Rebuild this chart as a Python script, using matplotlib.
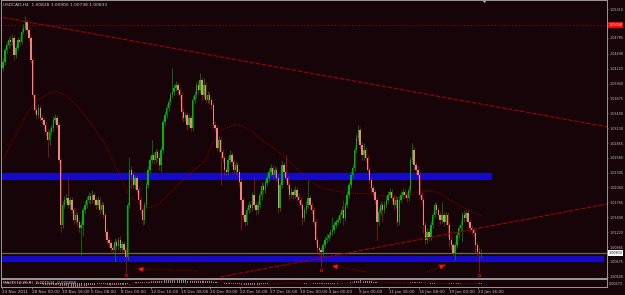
import numpy as np
import pandas as pd
import matplotlib
matplotlib.use("Agg")
import matplotlib.pyplot as plt

bg = "#170408"
frame = "#9a9a9a"

# USDCAD H4, one value per bar
first_open = 1.04232
closes = [
    1.04342, 1.04563, 1.04655, 1.04747, 1.04710, 1.04783, 1.04471, 1.04600, 1.04747, 1.04710,
    1.04893, 1.04967, 1.05077, 1.04930, 1.04783, 1.04379, 1.03736, 1.03461, 1.03369, 1.03498,
    1.03314, 1.03278, 1.03186, 1.03057, 1.02910, 1.03057, 1.03131, 1.03278, 1.03314, 1.03186,
    1.02543, 1.01349, 1.01717, 1.01809, 1.01845, 1.01717, 1.01809, 1.01625, 1.01441, 1.01533,
    1.01404, 1.01294, 1.01349, 1.01625, 1.01717, 1.01809, 1.01882, 1.01809, 1.01900, 1.01809,
    1.01717, 1.01809, 1.01625, 1.01717, 1.01533, 1.01221, 1.01074, 1.01019, 1.00927, 1.00891,
    1.01037, 1.00964, 1.01074, 1.00927, 1.01001, 1.00891, 1.00762, 1.01717, 1.02360, 1.02268,
    1.02084, 1.02213, 1.01992, 1.01809, 1.01625, 1.01441, 1.01717, 1.02084, 1.02360, 1.02543,
    1.02635, 1.02543, 1.02690, 1.02580, 1.02451, 1.02727, 1.03241, 1.03369, 1.03498, 1.03608,
    1.03736, 1.03791, 1.03865, 1.03920, 1.03828, 1.03736, 1.03424, 1.03314, 1.03369, 1.03186,
    1.03314, 1.03131, 1.03645, 1.03736, 1.03920, 1.03828, 1.04012, 1.03736, 1.03920, 1.03645,
    1.03736, 1.03645, 1.03553, 1.03186, 1.03131, 1.02763, 1.02910, 1.02690, 1.02580, 1.02360,
    1.02323, 1.02543, 1.02635, 1.02506, 1.02360, 1.02451, 1.02323, 1.02139, 1.01809, 1.01533,
    1.01404, 1.01625, 1.01717, 1.01662, 1.01900, 1.01717, 1.01625, 1.01717, 1.01900, 1.02066,
    1.01992, 1.02121, 1.02213, 1.02323, 1.02396, 1.02268, 1.02360, 1.02213, 1.01662, 1.02084,
    1.02451, 1.02323, 1.02213, 1.02084, 1.01900, 1.01955, 1.01900, 1.01992, 1.01863, 1.01809,
    1.01717, 1.01478, 1.01625, 1.01717, 1.01845, 1.01717, 1.01625, 1.01404, 1.01074, 1.00927,
    1.00891, 1.00854, 1.00982, 1.01074, 1.01111, 1.01166, 1.01221, 1.01258, 1.01349, 1.01404,
    1.01441, 1.01533, 1.01625, 1.01478, 1.01717, 1.01900, 1.02084, 1.02268, 1.02396, 1.02727,
    1.02947, 1.03094, 1.02818, 1.02635, 1.02727, 1.02580, 1.02360, 1.02176, 1.02029, 1.01955,
    1.01809, 1.01404, 1.01588, 1.01717, 1.01625, 1.01717, 1.01809, 1.01900, 1.01955, 1.01845,
    1.01717, 1.01809, 1.01404, 1.01809, 1.01900, 1.01955, 1.01900, 1.01845, 1.01992, 1.02543,
    1.02727, 1.02451, 1.02360, 1.02268, 1.01900, 1.01809, 1.01349, 1.01074, 1.01221, 1.01129,
    1.01349, 1.01533, 1.01717, 1.01625, 1.01533, 1.01441, 1.01533, 1.01404, 1.01533, 1.01349,
    1.01074, 1.00982, 1.00836, 1.00982, 1.01166, 1.01294, 1.01349, 1.01533, 1.01478, 1.01570,
    1.01404, 1.01294, 1.01258, 1.01203, 1.00982, 1.00854, 1.00828, 1.00833,
]
highs = [
    1.04416, 1.04618, 1.04710, 1.04801, 1.04820, 1.04857, 1.04838, 1.04655, 1.04801, 1.04801,
    1.04949, 1.05041, 1.05187, 1.05132, 1.04985, 1.04838, 1.04416, 1.03773, 1.03535, 1.03572,
    1.03553, 1.03369, 1.03332, 1.03241, 1.03113, 1.03131, 1.03186, 1.03351, 1.03388, 1.03369,
    1.03241, 1.02580, 1.01791, 1.01882, 1.01919, 1.02213, 1.01863, 1.01863, 1.01680, 1.01588,
    1.01588, 1.01460, 1.01423, 1.01680, 1.01791, 1.01882, 1.01955, 1.01937, 1.01992, 1.01955,
    1.01863, 1.01882, 1.01863, 1.01772, 1.01772, 1.01588, 1.01276, 1.01129, 1.01074, 1.00982,
    1.01111, 1.01093, 1.01129, 1.01148, 1.01056, 1.01056, 1.00945, 1.01772, 1.02598, 1.02433,
    1.02323, 1.02268, 1.02268, 1.02047, 1.01863, 1.01680, 1.01772, 1.02139, 1.02433, 1.02617,
    1.02910, 1.02690, 1.02745, 1.02745, 1.02672, 1.02781, 1.03296, 1.03443, 1.03572, 1.03681,
    1.03791, 1.04232, 1.03939, 1.03994, 1.03975, 1.03883, 1.03791, 1.03498, 1.03424, 1.03424,
    1.03369, 1.03369, 1.03718, 1.03810, 1.03975, 1.03994, 1.04141, 1.04067, 1.04049, 1.03975,
    1.03810, 1.03791, 1.03699, 1.03608, 1.03260, 1.03186, 1.02984, 1.02965, 1.02745, 1.02635,
    1.02414, 1.02598, 1.02727, 1.02690, 1.02562, 1.02506, 1.02506, 1.02378, 1.02213, 1.01863,
    1.01588, 1.01680, 1.01791, 1.01772, 1.01955, 1.02213, 1.01772, 1.01791, 1.01974, 1.02139,
    1.02121, 1.02176, 1.02287, 1.02396, 1.02470, 1.02451, 1.02433, 1.02414, 1.02268, 1.02139,
    1.02525, 1.02506, 1.02635, 1.02268, 1.02139, 1.02029, 1.02011, 1.02066, 1.02047, 1.01919,
    1.01863, 1.01772, 1.01680, 1.01791, 1.02176, 1.01900, 1.01772, 1.01680, 1.01460, 1.01129,
    1.00982, 1.00945, 1.01037, 1.01148, 1.01185, 1.01221, 1.01276, 1.01496, 1.01423, 1.01460,
    1.01515, 1.01588, 1.01699, 1.01809, 1.01772, 1.01974, 1.02139, 1.02342, 1.02470, 1.02800,
    1.03021, 1.03186, 1.03149, 1.02873, 1.02855, 1.02781, 1.02635, 1.02414, 1.02231, 1.02084,
    1.02011, 1.01863, 1.01662, 1.01791, 1.01772, 1.01791, 1.01882, 1.01974, 1.02029, 1.02011,
    1.01900, 1.01882, 1.01863, 1.01882, 1.01974, 1.02029, 1.02011, 1.01955, 1.02066, 1.02598,
    1.02855, 1.02781, 1.02506, 1.02433, 1.02323, 1.01955, 1.01863, 1.01404, 1.01294, 1.01276,
    1.01423, 1.01588, 1.01772, 1.01772, 1.01680, 1.01588, 1.01772, 1.01588, 1.01588, 1.01588,
    1.01404, 1.01129, 1.01019, 1.01037, 1.01221, 1.01349, 1.01441, 1.01588, 1.01625, 1.01625,
    1.01625, 1.01460, 1.01349, 1.01294, 1.01258, 1.01037, 1.00945, 1.00900,
]
lows = [
    1.04178, 1.04287, 1.04508, 1.04600, 1.04637, 1.04655, 1.04379, 1.04416, 1.04563, 1.04637,
    1.04674, 1.04857, 1.04930, 1.04875, 1.04729, 1.04324, 1.03681, 1.03406, 1.03296, 1.03314,
    1.03260, 1.03205, 1.03113, 1.02984, 1.02598, 1.02818, 1.03001, 1.03076, 1.03223, 1.03131,
    1.02488, 1.01221, 1.01294, 1.01662, 1.01754, 1.01662, 1.01644, 1.01570, 1.01368, 1.01386,
    1.01331, 1.01221, 1.00799, 1.01148, 1.01570, 1.01662, 1.01754, 1.01736, 1.01754, 1.01736,
    1.01644, 1.01662, 1.01552, 1.01570, 1.01478, 1.01148, 1.01001, 1.00945, 1.00873, 1.00818,
    1.00670, 1.00909, 1.00891, 1.00873, 1.00854, 1.00836, 1.00468, 1.00707, 1.01662, 1.02029,
    1.02029, 1.02011, 1.01919, 1.01736, 1.01552, 1.01349, 1.01368, 1.01662, 1.02029, 1.02305,
    1.02488, 1.02470, 1.02488, 1.02525, 1.02360, 1.02323, 1.02672, 1.03186, 1.03314, 1.03443,
    1.03553, 1.03681, 1.03736, 1.03810, 1.03755, 1.03663, 1.03278, 1.03241, 1.03260, 1.03094,
    1.03131, 1.03076, 1.03076, 1.03590, 1.03681, 1.03755, 1.03773, 1.03645, 1.03681, 1.03590,
    1.03590, 1.03572, 1.03480, 1.03131, 1.03076, 1.02709, 1.02690, 1.02084, 1.02506, 1.02268,
    1.02250, 1.02268, 1.02488, 1.02433, 1.02287, 1.02305, 1.02250, 1.02066, 1.01258, 1.01460,
    1.01331, 1.01349, 1.01570, 1.01588, 1.01607, 1.01662, 1.01533, 1.01552, 1.01662, 1.01809,
    1.01919, 1.01937, 1.02066, 1.02158, 1.02268, 1.02213, 1.02213, 1.02139, 1.01570, 1.01607,
    1.02029, 1.02250, 1.02139, 1.02011, 1.01809, 1.01845, 1.01827, 1.01845, 1.01791, 1.01736,
    1.01644, 1.01349, 1.01423, 1.01570, 1.01662, 1.01644, 1.01552, 1.01331, 1.01001, 1.00854,
    1.00799, 1.00578, 1.00781, 1.00927, 1.01019, 1.01056, 1.01111, 1.01166, 1.01203, 1.01294,
    1.01349, 1.01386, 1.01478, 1.01349, 1.01423, 1.01662, 1.01845, 1.02029, 1.02213, 1.02342,
    1.02672, 1.02892, 1.02745, 1.02543, 1.02543, 1.02506, 1.02287, 1.02103, 1.01937, 1.01882,
    1.01736, 1.01074, 1.01349, 1.01533, 1.01404, 1.01570, 1.01662, 1.01754, 1.01845, 1.01772,
    1.01644, 1.01662, 1.01331, 1.01349, 1.01754, 1.01845, 1.01845, 1.01772, 1.01791, 1.01937,
    1.02488, 1.02360, 1.02268, 1.02213, 1.01845, 1.01736, 1.01203, 1.01001, 1.01019, 1.01056,
    1.01074, 1.01294, 1.01478, 1.01552, 1.01478, 1.01368, 1.01386, 1.01331, 1.01349, 1.01129,
    1.00945, 1.00909, 1.00781, 1.00707, 1.00927, 1.01111, 1.01240, 1.01037, 1.01404, 1.01423,
    1.01349, 1.01221, 1.01185, 1.01129, 1.00836, 1.00799, 1.00486, 1.00738,
]

# moving average (bar index, price)
ma_bars = [0, 4, 9, 14, 19, 24, 29, 34, 39, 44, 49, 55, 60, 64, 68, 74, 79, 83, 87, 95, 103,
           109, 112, 117, 122, 126, 133, 139, 149, 160, 165, 170, 178, 187, 197, 205, 213,
           219, 224, 230, 235, 240, 248, 257]
ma_prices = [1.02543, 1.02818, 1.03131, 1.03461, 1.03645, 1.03755, 1.03810, 1.03718, 1.03572,
             1.03369, 1.03131, 1.02818, 1.02451, 1.02176, 1.01882, 1.01717, 1.01662, 1.01717,
             1.01845, 1.02121, 1.02360, 1.02543, 1.02818, 1.03094, 1.03149, 1.03205, 1.03094,
             1.02910, 1.02672, 1.02323, 1.02158, 1.02047, 1.01974, 1.01937, 1.01919, 1.01882,
             1.01845, 1.01900, 1.01955, 1.01974, 1.01937, 1.01809, 1.01662, 1.01515]

# drawn objects
down_line_bars = [0, 325]
down_line_prices = [1.05160, 1.03150]
up_line_bars = [117, 325]
up_line_prices = [1.00395, 1.01736]
level_price = 1.05030
bid_price = 1.00833
zone_lo = [1.02176, 1.00670]
zone_hi = [1.02295, 1.00781]
zone_end = [263, 323]
arrow_tail_bars = [104.8, 195.7, 228.0]
arrow_tail_prices = [1.00505, 1.00486, 1.00486]
arrow_tip_bars = [71.0, 176.9, 237.6]
arrow_tip_prices = [1.00542, 1.00597, 1.00615]
mark_bars = [66, 171, 256]
mark_prices = [1.00431, 1.00523, 1.00431]

price_ticks = [1.05310, 1.04785, 1.04490, 1.04220, 1.03940, 1.03675, 1.03400, 1.03130,
               1.02855, 1.02580, 1.02305, 1.02040, 1.01765, 1.01490, 1.01220, 1.00945,
               1.00675, 1.00400]
time_labels = ["23 Nov 2011", "28 Nov 00:00", "30 Nov 16:00", "5 Dec 08:00", "8 Dec 00:00",
               "12 Dec 16:00", "15 Dec 08:00", "20 Dec 00:00", "22 Dec 16:00", "27 Dec 16:00",
               "30 Dec 00:00", "4 Jan 00:00", "9 Jan 00:00", "11 Jan 16:00", "16 Jan 08:00",
               "19 Jan 00:00", "23 Jan 16:00"]

c = np.array(closes)
h = np.array(highs)
l = np.array(lows)
o = np.r_[first_open, c[:-1]]
x = np.arange(len(c))
up = c >= o

fig = plt.figure(figsize=(6.25, 2.95), dpi=100, facecolor=bg)
ax = fig.add_axes([1/625, 17/295, 606/625, 278/295], facecolor=bg)
ax.set_xlim(-1.08, 324.7)
ax.set_ylim(1.00376, 1.05481)

for lo, hi, end in zip(zone_lo, zone_hi, zone_end):
    ax.fill_between([-1.1, end], lo, hi, color="#140ac8", lw=0, zorder=1)
ax.axhline(bid_price, color="#666666", lw=0.9, zorder=1.5)
ax.axhline(level_price, color="#b00000", lw=0.7, ls=(0, (1, 2.5)), zorder=1.5)

ax.plot(ma_bars, ma_prices, color="#900000", lw=0.7, ls=(0, (1, 1.2)), zorder=2)

# candles
ax.vlines(x[up], l[up], h[up], color="#00a000", lw=0.45, zorder=3)
ax.vlines(x[~up], l[~up], h[~up], color="#b02020", lw=0.45, zorder=3)
body = np.maximum(np.abs(c - o), 0.00005)
ax.bar(x[up], body[up], bottom=np.minimum(o, c)[up], width=0.75, color="#00b400", lw=0, zorder=4)
ax.bar(x[~up], body[~up], bottom=np.minimum(o, c)[~up], width=0.75, color="#f08282", lw=0, zorder=4)

ax.plot(down_line_bars, down_line_prices, color="#a00000", lw=0.8, ls=(0, (4, 1.5)), zorder=5)
ax.plot(up_line_bars, up_line_prices, color="#a00000", lw=0.8, ls=(0, (4, 1.5)), zorder=5)

for tx, ty, hx, hy in zip(arrow_tail_bars, arrow_tail_prices, arrow_tip_bars, arrow_tip_prices):
    ax.plot([tx, hx], [ty, hy], color="#a00000", lw=0.6, ls=(0, (1, 1.5)), zorder=5)
    bx = hx + (tx - hx) * 0.15
    by = hy + (ty - hy) * 0.15
    ax.annotate("", xy=(hx, hy), xytext=(bx, by), zorder=6,
                arrowprops=dict(arrowstyle="-|>", color="#ff1010", lw=1.0, mutation_scale=6))
ax.plot(mark_bars, mark_prices, ls="none", marker="s", mfc="none", mec="#e00000", ms=2, mew=0.6, zorder=6)

ax.plot([258.5], [1], transform=ax.get_xaxis_transform(), marker="v", ms=2.5,
        color="#c0c0c0", clip_on=False)

for s in ax.spines.values():
    s.set_color(frame)
    s.set_linewidth(0.7)
ax.set_xticks([])
ax.yaxis.tick_right()
ax.set_yticks(price_ticks)
ax.set_yticklabels(["%.5f" % p for p in price_ticks])
ax.tick_params(axis="y", length=1, width=0.5, color=frame, labelsize=2.4,
               labelcolor="#c0c0c0", pad=0.6)

ax.text(1.0025, level_price, "%.5f" % level_price, transform=ax.get_yaxis_transform(),
        fontsize=2.4, color="#f0f0f0", va="center", ha="left",
        bbox=dict(boxstyle="square,pad=0.3", fc="#ff0000", ec="none"))
ax.text(1.0025, bid_price, "%.5f" % bid_price, transform=ax.get_yaxis_transform(),
        fontsize=2.4, color="#000000", va="center", ha="left",
        bbox=dict(boxstyle="square,pad=0.3", fc="#ffffff", ec="none"))

fig.text(3/625, 1 - 4.5/295, "USDCAD,H4  1.00828 1.00900 1.00738 1.00833",
         fontsize=3.2, color="#c8c8c8", va="center", ha="left")

# MACD sub window
s = pd.Series(c)
macd = s.ewm(span=12, adjust=False).mean() - s.ewm(span=26, adjust=False).mean()
signal = macd.rolling(9, min_periods=1).mean()

ax2 = fig.add_axes([1/625, 8/295, 606/625, 8/295], facecolor=bg)
ax2.set_xlim(-1.08, 324.7)
ax2.bar(x, macd, width=0.5, color="#8c8c8c", lw=0)
ax2.plot(x, signal, color="#c00000", lw=0.5, ls=(0, (1, 1)))
ax2.set_ylim(macd.min() * 1.1, macd.max() * 1.1)
for sp in ax2.spines.values():
    sp.set_color(frame)
    sp.set_linewidth(0.7)
ax2.set_yticks([])
ax2.set_xticks([16 * k - 0.5 for k in range(len(time_labels))])
ax2.set_xticklabels(time_labels, ha="left")
ax2.tick_params(axis="x", length=1.5, width=0.5, color=frame, labelsize=3,
                labelcolor="#c0c0c0", pad=0.8)
ax2.text(0.003, 0.55, "MACD(12,26,9) -0.001504 -0.000898", transform=ax2.transAxes,
         fontsize=2.9, color="#c8c8c8", va="center", ha="left")
fig.text(609/625, 1 - 284/295, "0.00573", fontsize=2.4, color="#c0c0c0", va="center", ha="left")

fig.savefig("out.png", dpi=100, facecolor=bg)
